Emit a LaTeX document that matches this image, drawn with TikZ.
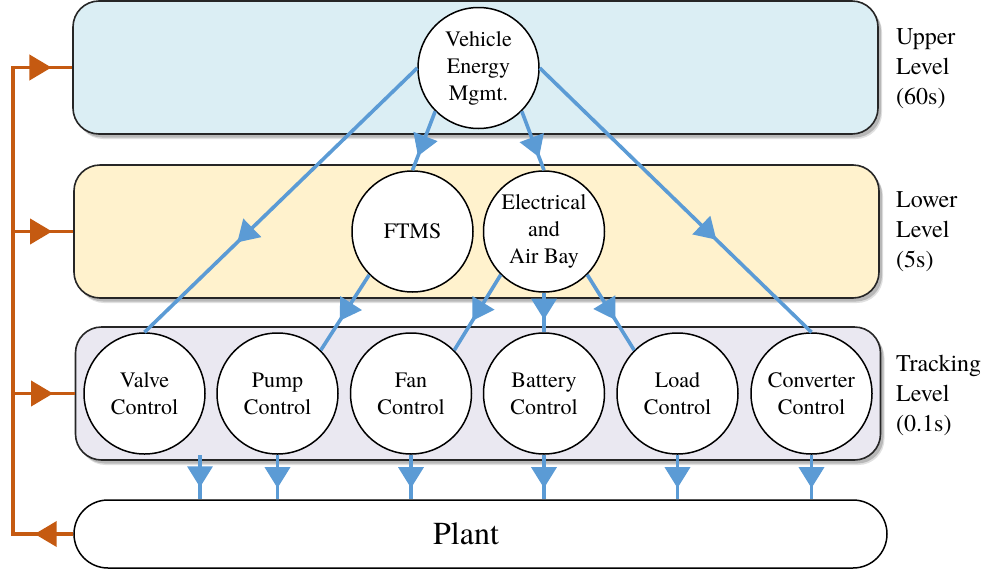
\documentclass[tikz,border=0pt]{standalone}
\usepackage{fontspec}
\setmainfont{TeX Gyre Termes}
\usetikzlibrary{arrows.meta,decorations.markings,shadows,shapes.misc}

\definecolor{flow}{RGB}{91,155,213}
\definecolor{fback}{RGB}{197,90,17}
\definecolor{upperfill}{RGB}{219,238,244}
\definecolor{lowerfill}{RGB}{255,242,205}
\definecolor{trackfill}{RGB}{234,232,241}

\tikzset{
  softshadow/.style={
    general shadow={shadow xshift=4pt, shadow yshift=-5pt, opacity=0.12, fill=black},
    general shadow={shadow xshift=3pt, shadow yshift=-3.5pt, opacity=0.18, fill=black}},
  levelbox/.style={draw=black!85, line width=1.6pt, rounded corners=26pt,
    minimum width=805pt, minimum height=133pt, inner sep=0pt, softshadow},
  plantbox/.style={rounded rectangle, draw=black, line width=1.5pt, fill=white,
    minimum width=813pt, minimum height=68pt, inner sep=0pt},
  ctrl/.style={circle, draw=black, line width=1.5pt, fill=white,
    minimum size=121pt, inner sep=0pt, align=center,
    font=\fontsize{22}{27}\selectfont},
  sidelabel/.style={anchor=west, align=left, inner sep=0pt,
    font=\fontsize{24}{30}\selectfont},
  flowline/.style={draw=flow, color=flow, line width=3.6pt},
  fbline/.style={draw=fback, color=fback, line width=3.8pt},
  markat/.style={postaction={decorate}, decoration={markings,
    mark=at position #1 with {\arrow{Triangle[length=21pt 0 0,width=25pt 0 0]}}}},
  fbmark/.style={postaction={decorate}, decoration={markings,
    mark=at position #1 with {\arrow{Triangle[length=22pt 0 0,width=25pt 0 0]}}}},
}

\begin{document}
\begin{tikzpicture}[x=1pt, y=-1pt]
\useasboundingbox (0,0) rectangle (989,571);

% level containers
\node[levelbox, fill=upperfill] (upper) at (475.5,67.5) {};
\node[levelbox, fill=lowerfill] (lower) at (476.5,231.5) {};
\node[levelbox, fill=trackfill] (track) at (478,393.5) {};
\node[plantbox] (plant) at (480.5,534) {};
\node[font=\fontsize{32}{38}\selectfont, inner sep=0pt] (plantname) at (466,534) {Plant};

% level captions
\node[sidelabel] (uppername) at (896,69) {Upper\\Level\\(60s)};
\node[sidelabel] (lowername) at (896,232) {Lower\\Level\\(5s)};
\node[sidelabel] (trackname) at (896,395) {Tracking\\Level\\(0.1s)};

% controllers
\node[ctrl] (vem) at (478.5,68) {Vehicle\\Energy\\Mgmt.};
\node[ctrl] (ftms) at (412.5,231.5) {FTMS};
\node[ctrl] (elec) at (544,231.5) {Electrical\\and\\Air Bay};
\node[ctrl] (valve) at (144.5,393.5) {Valve\\Control};
\node[ctrl] (pump) at (277.5,393.5) {Pump\\Control};
\node[ctrl] (fan) at (411,393.5) {Fan\\Control};
\node[ctrl] (batt) at (544,393.5) {Battery\\Control};
\node[ctrl] (load) at (677.5,393.5) {Load\\Control};
\node[ctrl] (conv) at (811.5,393.5) {Converter\\Control};

% set-points passed down the hierarchy
\draw[flowline, markat=0.66] (vem.west) -- (valve.north);
\draw[flowline, markat=0.76] (vem.225) -- (ftms.north);
\draw[flowline, markat=0.78] (vem.-45) -- (elec.north);
\draw[flowline, markat=0.65] (vem.east) -- (conv.north);
\draw[flowline, markat=0.61] (ftms.225) -- (pump.45);
\draw[flowline, markat=0.61] (elec.225) -- (fan.45);
\draw[flowline, markat=0.68] (elec.south) -- (batt.north);
\draw[flowline, markat=0.60] (elec.-45) -- (load.135);

% actuation into the plant
\coordinate (valveout) at (200,455);
\draw[flowline, markat=0.73] (valveout) -- (valveout |- plant.north);
\draw[flowline, markat=0.75] (pump.south) -- (pump.south |- plant.north);
\draw[flowline, markat=0.75] (fan.south) -- (fan.south |- plant.north);
\draw[flowline, markat=0.75] (batt.south) -- (batt.south |- plant.north);
\draw[flowline, markat=0.75] (load.south) -- (load.south |- plant.north);
\draw[flowline, markat=0.75] (conv.south) -- (conv.south |- plant.north);

% measurement feedback bus
\coordinate (busU) at (13,67.5);
\coordinate (busL) at (13,231.5);
\coordinate (busT) at (13,393.5);
\coordinate (busP) at (13,534);
\draw[fbline, line join=miter] (plant.west) -- (busP) -- (busU) -- (upper.west);
\draw[fbline, fbmark=0.64] (plant.west) -- (busP);
\draw[fbline, fbmark=0.65] (busU) -- (upper.west);
\draw[fbline, fbmark=0.65] (busL) -- (lower.west);
\draw[fbline, fbmark=0.65] (busT) -- (track.west);
\end{tikzpicture}
\end{document}
